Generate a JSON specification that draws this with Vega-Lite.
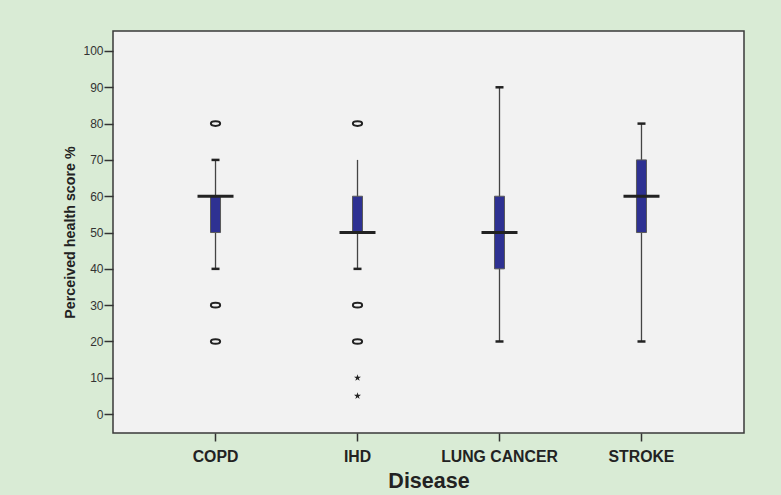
{
  "$schema": "https://vega.github.io/schema/vega-lite/v6.json",
  "width": 631,
  "height": 402,
  "autosize": {"type": "none"},
  "padding": {"left": 113, "top": 31, "right": 37, "bottom": 62},
  "background": "#d9ebd5",
  "config": {
    "font": "Liberation Sans",
    "view": {"fill": "#f2f2f2", "stroke": "#3a3a3a", "strokeWidth": 1.5}
  },
  "datasets": {
    "boxes": [
      {"disease": "COPD", "lo": 40, "q1": 50, "median": 60, "q3": 60, "hi": 70},
      {"disease": "IHD", "lo": 40, "q1": 50, "median": 50, "q3": 60, "hi": 70},
      {"disease": "LUNG CANCER", "lo": 20, "q1": 40, "median": 50, "q3": 60, "hi": 90},
      {"disease": "STROKE", "lo": 20, "q1": 50, "median": 60, "q3": 70, "hi": 80}
    ],
    "caps": [
      {"disease": "COPD", "value": 40},
      {"disease": "COPD", "value": 70},
      {"disease": "IHD", "value": 40},
      {"disease": "LUNG CANCER", "value": 20},
      {"disease": "LUNG CANCER", "value": 90},
      {"disease": "STROKE", "value": 20},
      {"disease": "STROKE", "value": 80}
    ],
    "outliers": [
      {"disease": "COPD", "value": 80, "kind": "outlier"},
      {"disease": "COPD", "value": 30, "kind": "outlier"},
      {"disease": "COPD", "value": 20, "kind": "outlier"},
      {"disease": "IHD", "value": 80, "kind": "outlier"},
      {"disease": "IHD", "value": 30, "kind": "outlier"},
      {"disease": "IHD", "value": 20, "kind": "outlier"},
      {"disease": "IHD", "value": 10, "kind": "extreme"},
      {"disease": "IHD", "value": 5, "kind": "extreme"}
    ]
  },
  "encoding": {
    "x": {
      "field": "disease",
      "type": "nominal",
      "sort": ["COPD", "IHD", "LUNG CANCER", "STROKE"],
      "scale": {"type": "band", "paddingInner": 0, "paddingOuter": 0.222},
      "axis": {
        "title": "Disease",
        "titleFontSize": 21.5,
        "titleFontWeight": "bold",
        "titleColor": "#222222",
        "titlePadding": 7,
        "labelAngle": 0,
        "labelFontSize": 15.8,
        "labelFontWeight": "bold",
        "labelColor": "#222222",
        "labelPadding": 8,
        "tickSize": 8,
        "tickWidth": 1.5,
        "tickColor": "#333333",
        "domain": false,
        "grid": false
      }
    }
  },
  "layer": [
    {
      "data": {"name": "boxes"},
      "mark": {"type": "rule", "color": "#444444", "strokeWidth": 1.3},
      "encoding": {
        "y": {
          "field": "lo",
          "type": "quantitative",
          "scale": {"domain": [-5.2, 105.5], "nice": false, "zero": false},
          "axis": {
            "title": "Perceived health score %",
            "titleFontSize": 14.3,
            "titleFontWeight": "bold",
            "titleColor": "#222222",
            "titlePadding": 5,
            "values": [0, 10, 20, 30, 40, 50, 60, 70, 80, 90, 100],
            "labelFontSize": 12,
            "labelColor": "#333333",
            "labelPadding": 1,
            "tickSize": 9,
            "tickWidth": 1.5,
            "tickColor": "#333333",
            "domain": false,
            "grid": false
          }
        },
        "y2": {"field": "hi"}
      }
    },
    {
      "data": {"name": "boxes"},
      "mark": {"type": "bar", "width": 10, "fill": "#2e3192", "stroke": "#5a5a5a", "strokeWidth": 1},
      "encoding": {
        "y": {"field": "q1", "type": "quantitative"},
        "y2": {"field": "q3"}
      }
    },
    {
      "data": {"name": "boxes"},
      "mark": {"type": "tick", "size": 36, "thickness": 3, "color": "#222222", "opacity": 1},
      "encoding": {
        "y": {"field": "median", "type": "quantitative"}
      }
    },
    {
      "data": {"name": "caps"},
      "mark": {"type": "tick", "size": 8, "thickness": 2.5, "color": "#222222", "opacity": 1},
      "encoding": {
        "y": {"field": "value", "type": "quantitative"}
      }
    },
    {
      "data": {"name": "outliers"},
      "transform": [{"filter": "datum.kind === 'outlier'"}],
      "mark": {
        "type": "point",
        "shape": "M-1,0C-1,-0.276,-0.552,-0.5,0,-0.5C0.552,-0.5,1,-0.276,1,0C1,0.276,0.552,0.5,0,0.5C-0.552,0.5,-1,0.276,-1,0Z",
        "size": 85,
        "filled": false,
        "stroke": "#222222",
        "strokeWidth": 2,
        "opacity": 1
      },
      "encoding": {
        "y": {"field": "value", "type": "quantitative"}
      }
    },
    {
      "data": {"name": "outliers"},
      "transform": [{"filter": "datum.kind === 'extreme'"}],
      "mark": {
        "type": "point",
        "shape": "M0,-1L0.223,-0.307L0.951,-0.309L0.361,0.117L0.588,0.809L0,0.38L-0.588,0.809L-0.361,0.117L-0.951,-0.309L-0.223,-0.307Z",
        "size": 54,
        "filled": true,
        "fill": "#222222",
        "opacity": 1
      },
      "encoding": {
        "y": {"field": "value", "type": "quantitative"}
      }
    }
  ]
}
